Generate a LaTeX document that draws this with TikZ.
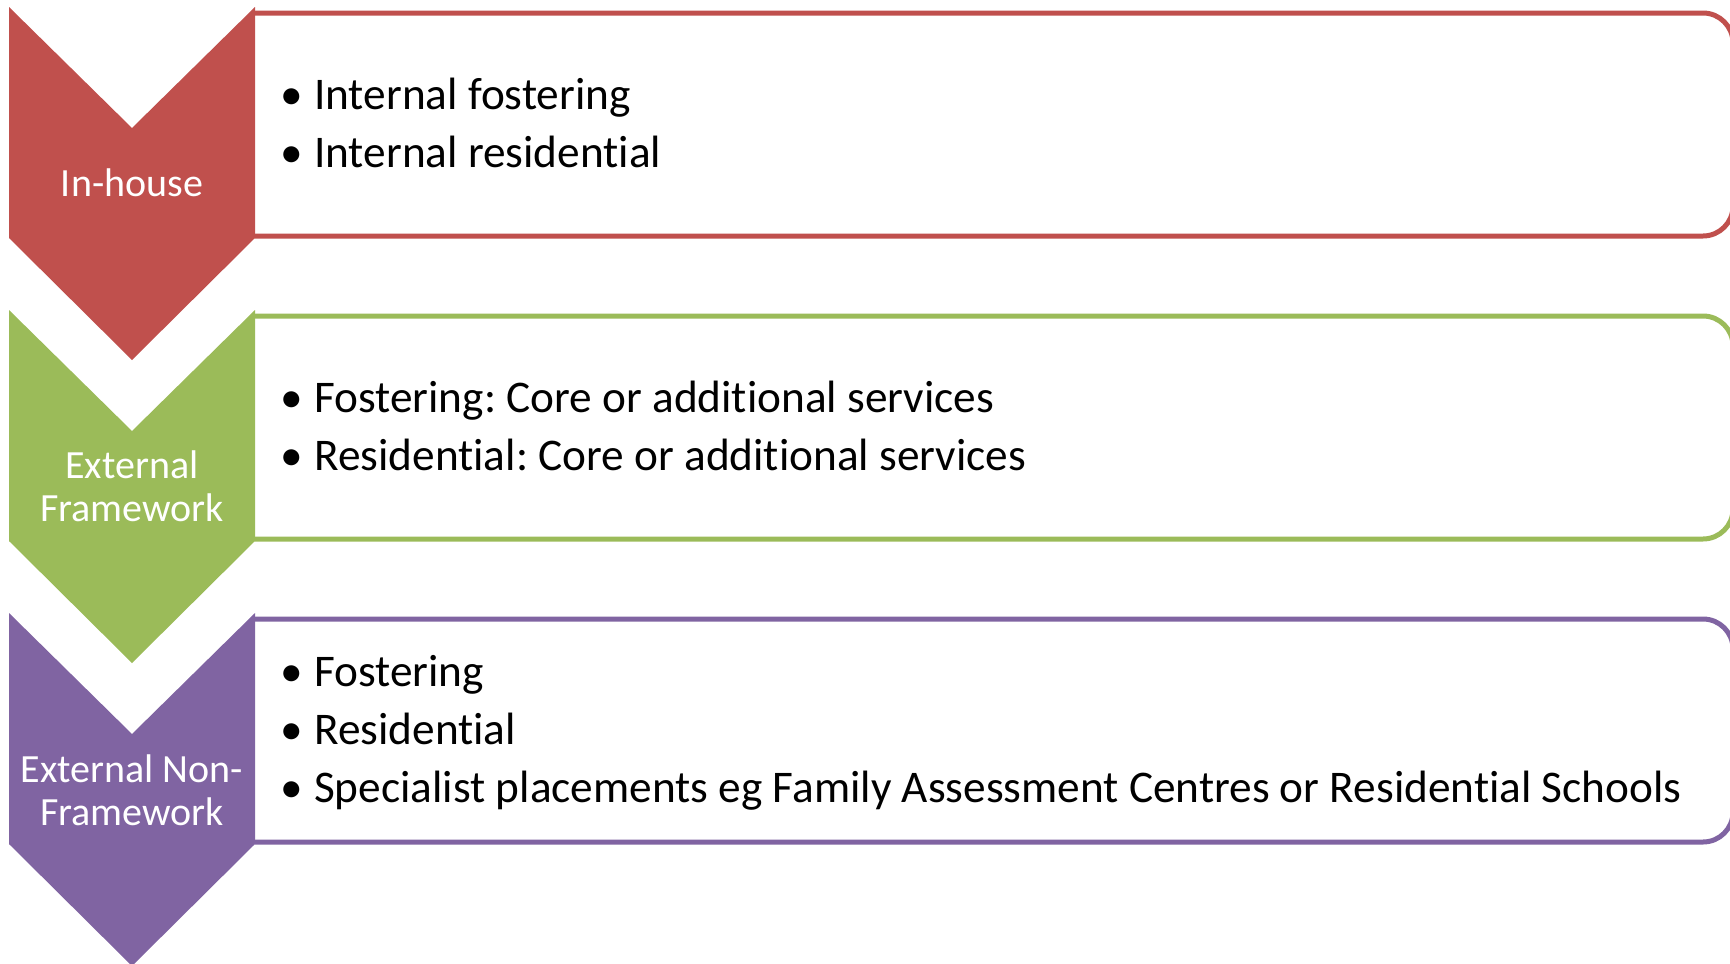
\documentclass[tikz,border=0pt]{standalone}
\usepackage{fontspec}
\setmainfont{Carlito}[Ligatures={NoCommon}]
\definecolor{cred}{HTML}{C0504D}
\definecolor{cgreen}{HTML}{9BBB59}
\definecolor{cpurple}{HTML}{8064A2}
\frenchspacing
\begin{document}
\begin{tikzpicture}[x=1pt,y=-1pt,
  boxline/.style={draw=#1,line width=5pt,rounded corners=30pt},
  chev/.style={fill=#1,draw=none},
  lbl/.style={text=white,inner sep=0pt,align=center,font=\fontsize{40}{43}\selectfont},
  itm/.style={anchor=base west,inner sep=0pt,font=\fontsize{45.3}{52}\selectfont},
  bul/.style={anchor=base west,inner sep=0pt,font=\fontsize{45.3}{52}\selectfont}]
\useasboundingbox (0,0) rectangle (1730,964);
\clip (0,0) rectangle (1730,964);
% boxes
\draw[boxline=cred] (255,13) -- (1733,13) -- (1733,236) -- (255,236);
\draw[boxline=cgreen] (255,316) -- (1733,316) -- (1733,539) -- (255,539);
\draw[boxline=cpurple] (255,619) -- (1733,619) -- (1733,842) -- (255,842);
% chevrons
\fill[chev=cred] (9,7) -- (132,128) -- (255,7) -- (255,238) -- (132,360) -- (9,238) -- cycle;
\fill[chev=cgreen] (9,310) -- (132,431) -- (255,310) -- (255,541) -- (132,663) -- (9,541) -- cycle;
\fill[chev=cpurple] (9,613) -- (132,734) -- (255,613) -- (255,844) -- (132,966) -- (9,844) -- cycle;
% labels
\node[lbl,anchor=base] (l1) at (132,196) {In-house};
\node[lbl] (l2) at (132,486.5) {External\\Framework};
\node[lbl] (l3) at (132,790) {External Non-\\Framework};
% items
\node[bul] (b11) at (280,109) {•};
\node[itm] (t11) at (314,109) {Internal fostering};
\node[bul] (b12) at (280,167) {•};
\node[itm] (t12) at (314,167) {Internal residential};
\node[bul] (b21) at (280,412) {•};
\node[itm] (t21) at (314,412) {Fostering: Core or additional services};
\node[bul] (b22) at (280,470) {•};
\node[itm] (t22) at (314,470) {Residential: Core or additional services};
\node[bul] (b31) at (280,686) {•};
\node[itm] (t31) at (314,686) {Fostering};
\node[bul] (b32) at (280,744) {•};
\node[itm] (t32) at (314,744) {Residential};
\node[bul] (b33) at (280,802) {•};
\node[itm] (t33) at (314,802) {Specialist placements eg Family Assessment Centres or Residential Schools};
\end{tikzpicture}
\end{document}
